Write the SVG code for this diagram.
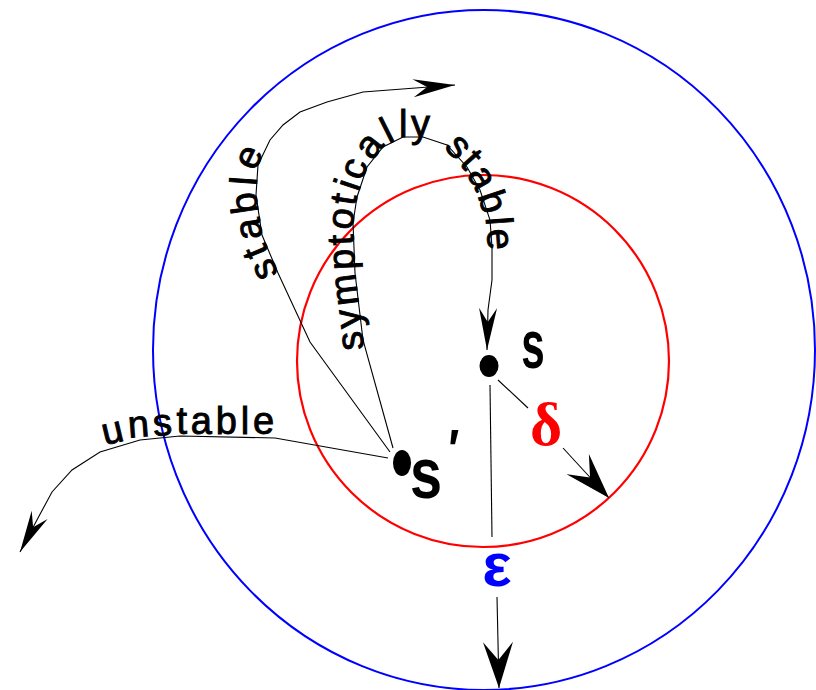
<svg xmlns="http://www.w3.org/2000/svg" width="816" height="690" viewBox="0 0 816 690">
<style>
.bg{fill:#fff}
.conn{fill:none;stroke:#000;stroke-width:1.1}
.curve{font-family:"Liberation Sans",Arial,sans-serif;font-size:38px;fill:#000;stroke:#000;stroke-width:0.9}
.lbl{font-family:"Liberation Sans",Arial,sans-serif;font-weight:bold;fill:#000}
.dot{fill:#000}
</style>
<defs>
<marker id="arr" markerUnits="userSpaceOnUse" viewBox="0 0 44 20" markerWidth="44" markerHeight="20" refX="42" refY="10" orient="auto">
<path d="M42,10 L0,1 L14,10 L0,19 z" fill="#000"/>
</marker>
<marker id="arrW" markerUnits="userSpaceOnUse" viewBox="0 0 48 32" markerWidth="48" markerHeight="32" refX="46" refY="16" orient="auto">
<path d="M46,16 L0,1 L18,16 L0,31 z" fill="#000"/>
</marker>
<path id="pA" d="M 390 452 L 310 342 L 278 273 L 262 235 L 256 195 L 258 165 L 270 140 L 283 125 L 300 112 L 327 102 L 363 92 L 455 85"/>
<path id="pC" d="M 393 448 L 363 340 L 355 273 L 353 223 L 357 197 L 367 167 L 383 147 L 403 137 L 423 137 L 447 145 L 467 167 L 480 190 L 490 220 L 492 247 L 492 280 L 488 310 L 487 350"/>
<path id="pD" d="M 98 447 L 140 437 L 180 434 L 290 434"/>
</defs>
<rect class="bg" x="0" y="0" width="816" height="690"/>
<g id="region-epsilon">
<ellipse cx="484" cy="350" rx="331" ry="340" fill="none" stroke="#0000ff" stroke-width="2"/>
</g>
<g id="region-delta">
<circle cx="483" cy="361" r="186" fill="none" stroke="#ff0000" stroke-width="2.2"/>
</g>
<g id="connectors">
<use href="#pA" class="conn" marker-end="url(#arr)"/>
<use href="#pC" class="conn" marker-end="url(#arr)"/>
<path class="conn" d="M 388 458 L 275 438 L 180 436 L 140 440 L 100 452 L 72 470 L 52 492 L 38 518 L 20 552" marker-end="url(#arr)"/>
<line class="conn" x1="498" y1="380" x2="528" y2="408"/>
<line class="conn" x1="563" y1="448" x2="609" y2="498" marker-end="url(#arrW)"/>
<line class="conn" x1="490" y1="385" x2="492" y2="537"/>
<line class="conn" x1="497" y1="597" x2="499" y2="688" marker-end="url(#arrW)"/>
</g>
<g id="label-stable">
<text class="curve" letter-spacing="5"><textPath href="#pA" startOffset="211">stable</textPath></text>
</g>
<g id="label-asymptotically-stable">
<text class="curve" letter-spacing="3.5"><textPath href="#pC" startOffset="103">symptotically<tspan dy="4"> stable</tspan></textPath></text>
</g>
<g id="label-unstable">
<text class="curve" letter-spacing="3.8"><textPath href="#pD" startOffset="7">unstable</textPath></text>
</g>
<g id="node-s">
<ellipse class="dot" cx="489" cy="366" rx="9.5" ry="11"/>
<text class="lbl" font-size="68" text-anchor="middle" transform="translate(533,368) scale(0.62,1)">s</text>
</g>
<g id="node-s-prime">
<ellipse class="dot" cx="402" cy="463" rx="9" ry="13"/>
<text class="lbl" font-size="72" transform="translate(410,498) scale(0.8,1)">s<tspan font-size="56" dx="8" dy="-30">′</tspan></text>
</g>
<g id="label-delta">
<text x="546" y="445" font-family="'Liberation Serif','Times New Roman',serif" font-weight="bold" font-size="62" fill="#ff0000" text-anchor="middle">δ</text>
</g>
<g id="label-eps">
<text x="497" y="586" font-family="'Liberation Sans',Arial,sans-serif" font-weight="bold" font-size="62" fill="#0000ff" text-anchor="middle">ε</text>
</g>
</svg>
